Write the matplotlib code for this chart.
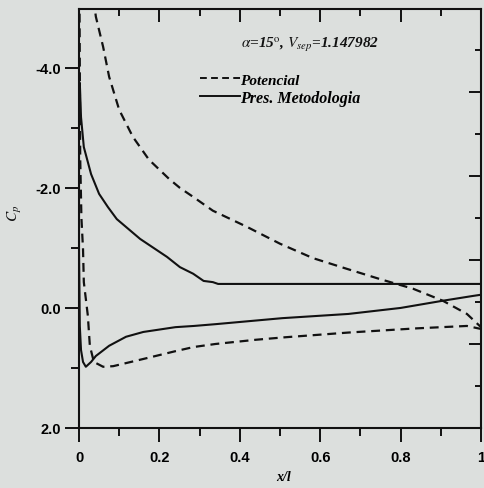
import matplotlib
matplotlib.use('Agg')
import matplotlib.pyplot as plt
from matplotlib.lines import Line2D

plt.rcParams['mathtext.fontset'] = 'stix'

# Potencial - upper surface (dashed)
x_pot_sup = [0.035, 0.042, 0.06, 0.075, 0.1, 0.134, 0.174, 0.224, 0.251, 0.284, 0.333, 0.418,
             0.5, 0.582, 0.667, 0.749, 0.831, 0.905, 0.965, 1.0]
cp_pot_sup = [-5.2, -4.85, -4.35, -3.85, -3.3, -2.85, -2.47, -2.15, -2.0, -1.85, -1.62, -1.35,
              -1.07, -0.83, -0.65, -0.48, -0.32, -0.12, 0.1, 0.32]
# Potencial - lower surface (dashed)
x_pot_inf = [0.001, 0.002, 0.003, 0.006, 0.01, 0.012, 0.022, 0.027, 0.037, 0.06, 0.085, 0.16,
             0.24, 0.286, 0.34, 0.44, 0.51, 0.67, 0.84, 0.965, 1.0]
cp_pot_inf = [-5.5, -4.0, -2.5, -1.5, -0.98, -0.43, 0.13, 0.63, 0.9, 0.98, 0.97, 0.85,
              0.72, 0.65, 0.6, 0.53, 0.49, 0.41, 0.34, 0.30, 0.35]
# Pres. Metodologia - upper surface (solid)
x_met_sup = [0.0, 0.002, 0.005, 0.012, 0.03, 0.05, 0.072, 0.094, 0.152, 0.219, 0.251, 0.284,
             0.31, 0.333, 0.346, 1.0]
cp_met_sup = [-3.6, -3.75, -3.18, -2.68, -2.23, -1.9, -1.68, -1.48, -1.15, -0.85, -0.68, -0.57,
              -0.45, -0.43, -0.4, -0.4]
# Pres. Metodologia - lower surface (solid)
x_met_inf = [0.0, 0.0, 0.002, 0.005, 0.01, 0.017, 0.03, 0.042, 0.075, 0.117, 0.16, 0.24, 0.286,
             0.34, 0.506, 0.67, 0.8, 0.905, 0.98, 1.0]
cp_met_inf = [-3.6, -1.0, 0.3, 0.7, 0.9, 0.98, 0.9, 0.8, 0.63, 0.48, 0.4, 0.32, 0.3,
              0.27, 0.17, 0.1, 0.0, -0.12, -0.2, -0.22]

xticks = [0, 0.2, 0.4, 0.6, 0.8, 1]
xtick_labels = ['0', '0.2', '0.4', '0.6', '0.8', '1']
yticks = [-4.0, -2.0, 0.0, 2.0]
ytick_labels = ['-4.0', '-2.0', '0.0', '2.0']
# right side ticks (different spacing in the original)
yticks_right_major = [2.0, 0.6, -0.8, -2.2, -3.6]
yticks_right_minor = [1.3, -0.1, -1.5, -2.9, -4.3]

bg = '#dcdfdd'
ink = '#111111'

fig = plt.figure(figsize=(4.84, 4.89), dpi=100, facecolor=bg)
ax = fig.add_axes([79 / 484, 1 - 429 / 489, 402 / 484, 419 / 489])
ax.set_facecolor(bg)

dash = (4, 2.6)
ax.plot(x_pot_sup, cp_pot_sup, color=ink, lw=1.6, dashes=dash)
ax.plot(x_pot_inf, cp_pot_inf, color=ink, lw=1.6, dashes=dash)
ax.plot(x_met_sup, cp_met_sup, color=ink, lw=1.5)
ax.plot(x_met_inf, cp_met_inf, color=ink, lw=1.5)

ax.set_xlim(0, 1)
ax.set_ylim(2.0, -4.98)

for s in ax.spines.values():
    s.set_linewidth(1.5)
    s.set_color(ink)

tick_font = dict(family='Liberation Sans', weight='bold', size=10.5)
ax.set_xticks(xticks)
ax.set_xticklabels(xtick_labels, **tick_font)
ax.set_xticks([0.1, 0.3, 0.5, 0.7, 0.9], minor=True)
ax.set_yticks(yticks)
ax.set_yticklabels(ytick_labels, **tick_font)
ax.set_yticks([-3.0, -1.0, 1.0], minor=True)
ax.tick_params(which='major', direction='out', length=10, width=1.4, color=ink, pad=6)
ax.tick_params(which='minor', direction='out', length=5.5, width=1.4, color=ink)
ax.tick_params(axis='y', which='major', pad=3)

# top ticks, inward
axt = ax.twiny()
axt.set_xlim(0, 1)
axt.set_xticks(xticks)
axt.set_xticks([0.1, 0.3, 0.5, 0.7, 0.9], minor=True)
axt.tick_params(which='major', direction='in', length=9, width=1.4, color=ink, labeltop=False)
axt.tick_params(which='minor', direction='in', length=5, width=1.4, color=ink)
axt.spines[:].set_visible(False)

# right ticks, inward
axr = ax.twinx()
axr.set_ylim(2.0, -4.98)
axr.set_yticks(yticks_right_major)
axr.set_yticks(yticks_right_minor, minor=True)
axr.tick_params(which='major', direction='in', length=9, width=1.4, color=ink, labelright=False)
axr.tick_params(which='minor', direction='in', length=4.5, width=1.4, color=ink)
axr.spines[:].set_visible(False)

ax.text(0.575, 0.918,
        r'$\alpha$=15$^{\mathrm{o}}$, $V_{sep}$=1.147982',
        transform=ax.transAxes, ha='center', va='center',
        family='Liberation Serif', style='italic', weight='bold', size=11, color=ink)

handles = [Line2D([], [], color=ink, lw=1.4, dashes=(3.5, 2.2)),
           Line2D([], [], color=ink, lw=1.4)]
leg = ax.legend(handles, ['Potencial', 'Pres. Metodologia'], loc='upper left',
                bbox_to_anchor=(0.286, 0.862), frameon=False, handlelength=2.6,
                handletextpad=0.0, labelspacing=0.2, borderaxespad=0,
                prop=dict(family='Liberation Serif', style='italic', weight='bold', size=11))
leg.get_texts()[1].set_fontsize(11.5)

ax.set_xlabel('x/l', family='Liberation Serif', style='italic', weight='bold', size=10)
ax.xaxis.set_label_coords(0.51, -0.1)
ax.text(-0.16, 0.515, r'$C_p$', transform=ax.transAxes, rotation=90,
        ha='center', va='center', size=11, color=ink)

fig.savefig('out.png', dpi=100, facecolor=bg)
